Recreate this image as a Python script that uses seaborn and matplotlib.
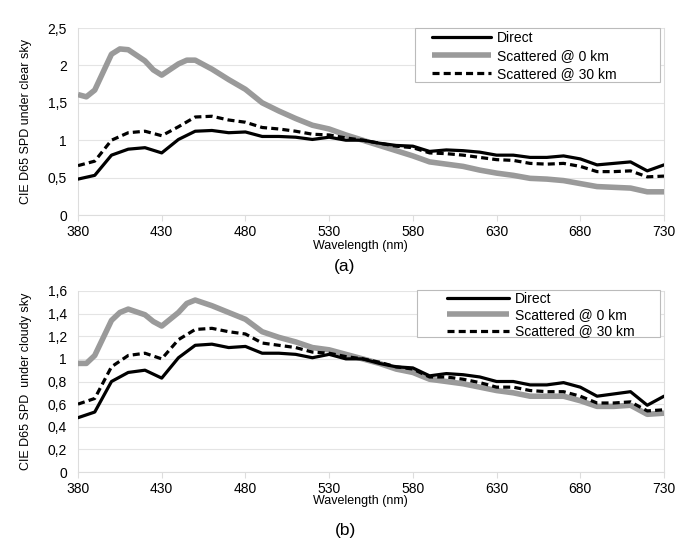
import matplotlib
matplotlib.use("Agg")
import matplotlib.pyplot as plt
import seaborn as sns
import pandas as pd
from matplotlib.ticker import FuncFormatter
from matplotlib.patches import Rectangle

# ---------------- data ----------------
wl = [380, 390, 400, 410, 420, 430, 440, 450, 460, 470, 480, 490, 500, 510, 520,
      530, 540, 550, 560, 570, 580, 590, 600, 610, 620, 630, 640, 650, 660, 670,
      680, 690, 700, 710, 720, 730]

direct = [0.48, 0.53, 0.80, 0.88, 0.90, 0.83, 1.01, 1.12, 1.13, 1.10, 1.11, 1.05,
          1.05, 1.04, 1.01, 1.04, 1.00, 1.00, 0.96, 0.93, 0.92, 0.85, 0.87, 0.86,
          0.84, 0.80, 0.80, 0.77, 0.77, 0.79, 0.75, 0.67, 0.69, 0.71, 0.59, 0.67]

wl_s0 = [380, 385, 390, 400, 405, 410, 420, 425, 430, 440, 445, 450, 460, 470, 480,
         490, 500, 510, 520, 530, 540, 550, 560, 570, 580, 590, 600, 610, 620, 630,
         640, 650, 660, 670, 680, 690, 700, 710, 720, 730]

clear_s0 = [1.61, 1.58, 1.67, 2.15, 2.22, 2.21, 2.06, 1.94, 1.87, 2.02, 2.07, 2.07,
            1.95, 1.81, 1.68, 1.50, 1.39, 1.29, 1.20, 1.15, 1.07, 1.00, 0.93, 0.86,
            0.79, 0.71, 0.68, 0.65, 0.60, 0.56, 0.53, 0.49, 0.48, 0.46, 0.42, 0.38,
            0.37, 0.36, 0.31, 0.31]

clear_s30 = [0.66, 0.72, 1.00, 1.10, 1.12, 1.06, 1.18, 1.31, 1.32, 1.27, 1.24, 1.17,
             1.15, 1.12, 1.08, 1.07, 1.03, 1.00, 0.96, 0.92, 0.90, 0.83, 0.82, 0.80,
             0.77, 0.74, 0.73, 0.69, 0.68, 0.69, 0.65, 0.58, 0.58, 0.59, 0.51, 0.52]

cloudy_s0 = [0.96, 0.96, 1.03, 1.34, 1.41, 1.44, 1.39, 1.33, 1.29, 1.41, 1.49, 1.52,
             1.47, 1.41, 1.35, 1.24, 1.19, 1.15, 1.10, 1.08, 1.04, 1.00, 0.96, 0.91,
             0.88, 0.82, 0.80, 0.78, 0.75, 0.72, 0.70, 0.67, 0.67, 0.67, 0.63, 0.58,
             0.58, 0.59, 0.51, 0.52]

cloudy_s30 = [0.60, 0.65, 0.93, 1.03, 1.05, 1.00, 1.17, 1.26, 1.27, 1.24, 1.22, 1.14,
              1.12, 1.10, 1.06, 1.05, 1.02, 1.00, 0.97, 0.93, 0.91, 0.84, 0.84, 0.82,
              0.79, 0.75, 0.75, 0.72, 0.71, 0.71, 0.67, 0.61, 0.61, 0.62, 0.54, 0.55]

series_names = ["Direct", "Scattered @ 0 km", "Scattered @ 30 km"]
ylabels = ["CIE D65 SPD under clear sky", "CIE D65 SPD  under cloudy sky"]
panel_labels = ["(a)", "(b)"]
xticks = [380, 430, 480, 530, 580, 630, 680, 730]

# ---------------- style ----------------
sns.set_theme(style="white")
plt.rcParams["font.family"] = ["Liberation Sans", "DejaVu Sans"]

W, H = 690, 545
fig = plt.figure(figsize=(W / 100, H / 100), dpi=100)

comma = FuncFormatter(lambda v, p: ("%g" % round(v, 2)).replace(".", ","))
DASH = [2.2, 1.3]

panels = [
    dict(s0=clear_s0, s30=clear_s30, top=28, bottom=215, ymax=2.5, ystep=0.5,
         xl_y=246, pl_y=266, box=(415, 28, 660, 82), hx=432, hl=4.25,
         ltop=31, lsp=0.3),
    dict(s0=cloudy_s0, s30=cloudy_s30, top=291, bottom=472, ymax=1.6, ystep=0.2,
         xl_y=501, pl_y=530, box=(417, 290, 660, 337), hx=447, hl=4.45,
         ltop=292, lsp=0.16),
]

left_px, right_px = 78, 664
for i, p in enumerate(panels):
    ax = fig.add_axes([left_px / W, 1 - p["bottom"] / H,
                       (right_px - left_px) / W, (p["bottom"] - p["top"]) / H])
    d_direct = pd.DataFrame({"wl": wl, "v": direct})
    d_s0 = pd.DataFrame({"wl": wl_s0, "v": p["s0"]})
    d_s30 = pd.DataFrame({"wl": wl, "v": p["s30"]})
    sns.lineplot(data=d_direct, x="wl", y="v", ax=ax, color="black", lw=2.3,
                 label=series_names[0], zorder=4)
    sns.lineplot(data=d_s0, x="wl", y="v", ax=ax, color="#9a9a9a", lw=4.0,
                 label=series_names[1], zorder=3, solid_capstyle="butt")
    sns.lineplot(data=d_s30, x="wl", y="v", ax=ax, color="black", lw=2.3,
                 label=series_names[2], zorder=5)
    ax.lines[-1].set_dashes(DASH)

    ax.set_xlim(380, 730)
    ax.set_ylim(0, p["ymax"])
    yt = [round(k * p["ystep"], 2) for k in range(int(round(p["ymax"] / p["ystep"])) + 1)]
    ax.set_yticks(yt)
    ax.yaxis.set_major_formatter(comma)
    ax.set_xticks(xticks)
    ax.grid(axis="y", color="#e4e4e4", lw=0.8)
    ax.spines["top"].set_visible(False)
    for s in ["left", "right", "bottom"]:
        ax.spines[s].set_color("#dddddd")
        ax.spines[s].set_linewidth(0.8)
    ax.tick_params(axis="x", direction="out", length=4, width=0.8, color="#dddddd",
                   labelsize=10, pad=3, labelcolor="black", bottom=True)
    ax.tick_params(axis="y", length=0, labelsize=10, pad=8, labelcolor="black")
    ax.set_xlabel("")
    ax.set_ylabel(ylabels[i], fontsize=9, color="black")
    ax.yaxis.set_label_coords((32 - left_px) / (right_px - left_px), 0.5)
    fig.text(360 / W, 1 - p["xl_y"] / H, "Wavelength (nm)",
             ha="center", va="center", fontsize=9, color="black")
    fig.text(345 / W, 1 - p["pl_y"] / H, panel_labels[i],
             ha="center", va="center", fontsize=12.5, color="black")

    # legend frame (drawn inside the axes, under the legend)
    bx0, by0, bx1, by1 = p["box"]
    ax.add_patch(Rectangle((bx0 / W, 1 - by1 / H), (bx1 - bx0) / W, (by1 - by0) / H,
                           transform=fig.transFigure, facecolor="white",
                           edgecolor="#bbbbbb", lw=0.8, zorder=8, clip_on=False))
    leg = ax.legend(loc="upper left",
                    bbox_to_anchor=(p["hx"] / W, 1 - p["ltop"] / H),
                    bbox_transform=fig.transFigure,
                    frameon=False, fontsize=10, handlelength=p["hl"],
                    handletextpad=0.45, labelspacing=p["lsp"], borderpad=0,
                    borderaxespad=0)
    for t in leg.get_texts():
        t.set_color("black")
    leg.legend_handles[2].set_dashes(DASH)
    leg.set_zorder(10)

fig.savefig("out.png", dpi=100)
